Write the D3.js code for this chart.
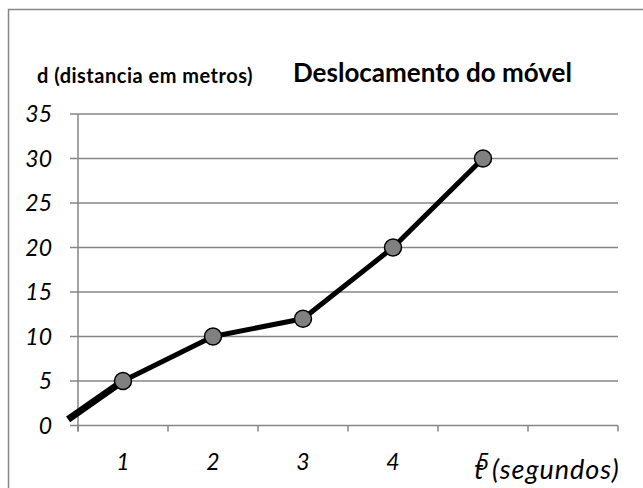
<!DOCTYPE html>
<html>
<head>
<meta charset="utf-8">
<script src="https://cdn.jsdelivr.net/npm/d3@7"></script>
<style>
  body { margin: 0; background: #fff; }
  text { font-family: Lato, "Open Sans", sans-serif; }
</style>
</head>
<body>
<div id="chart"></div>
<script>
// data
const categories = ['1', '2', '3', '4', '5', ''];
const distances = [5, 10, 12, 20, 30];
const yTicks = [0, 5, 10, 15, 20, 25, 30, 35];
// short thick stroke at the start, drawn before the first point
const startT = [0.39, 1];
const startD = [0.7, 5];

const width = 643;
const height = 488;
const margin = { top: 114, left: 78, right: 25, bottom: 62.5 };
const plotW = width - margin.left - margin.right; // 540
const plotH = height - margin.top - margin.bottom;

const svg = d3.select('#chart').append('svg').attr('width', width).attr('height', height);

// outer frame
svg.append('rect')
  .attr('x', 8.5).attr('y', 9.5)
  .attr('width', 650).attr('height', 500)
  .attr('fill', 'none').attr('stroke', '#868686').attr('stroke-width', 1.5);

const x = d3.scaleLinear().domain([0.5, categories.length + 0.5]).range([0, plotW]);
const y = d3.scaleLinear().domain([0, 35]).range([plotH, 0]);

const chart = svg.append('g').attr('transform', `translate(${margin.left},${margin.top})`);

// horizontal grid
chart.append('g')
  .selectAll('line')
  .data(yTicks)
  .enter()
  .append('line')
  .attr('x1', -8).attr('x2', plotW)
  .attr('y1', d => y(d)).attr('y2', d => y(d))
  .attr('stroke', '#868686').attr('stroke-width', 1.5);

// y axis line
chart.append('line')
  .attr('x1', 0).attr('x2', 0)
  .attr('y1', y(35)).attr('y2', plotH + 6)
  .attr('stroke', '#868686').attr('stroke-width', 1.5);

// x tick marks at category boundaries
const bounds = d3.range(categories.length + 1).map(i => i + 0.5);
chart.append('g')
  .selectAll('line')
  .data(bounds)
  .enter()
  .append('line')
  .attr('x1', d => x(d)).attr('x2', d => x(d))
  .attr('y1', plotH).attr('y2', plotH + 6)
  .attr('stroke', '#868686').attr('stroke-width', 1.5);

// y labels
chart.append('g')
  .selectAll('text')
  .data(yTicks)
  .enter()
  .append('text')
  .attr('x', -26).attr('y', d => y(d))
  .attr('dy', '0.36em')
  .attr('text-anchor', 'end')
  .style('font-size', '23px').style('font-style', 'italic')
  .text(d => d);

// x labels
chart.append('g')
  .selectAll('text')
  .data(categories)
  .enter()
  .append('text')
  .attr('x', (d, i) => x(i + 1)).attr('y', plotH + 44)
  .attr('text-anchor', 'middle')
  .style('font-size', '23px').style('font-style', 'italic')
  .text(d => d);

// lines
const line = d3.line().x(d => x(d[0])).y(d => y(d[1]));
chart.append('path')
  .attr('d', line(startT.map((t, i) => [t, startD[i]])))
  .attr('fill', 'none').attr('stroke', '#000').attr('stroke-width', 7);

chart.append('path')
  .attr('d', line(distances.map((v, i) => [i + 1, v])))
  .attr('fill', 'none').attr('stroke', '#000').attr('stroke-width', 5)
  .attr('stroke-linejoin', 'round');

chart.append('g')
  .selectAll('circle')
  .data(distances)
  .enter()
  .append('circle')
  .attr('cx', (d, i) => x(i + 1)).attr('cy', d => y(d))
  .attr('r', 8.5)
  .attr('fill', '#808080').attr('stroke', '#000').attr('stroke-width', 1.5);

// titles
svg.append('text')
  .attr('x', 293).attr('y', 82)
  .style('font-size', '26px').style('font-weight', 'bold')
  .text('Deslocamento do móvel');

svg.append('text')
  .attr('x', 37).attr('y', 83)
  .style('font-size', '20px').style('font-weight', 'bold')
  .style('letter-spacing', '0.5px')
  .text('d (distancia em metros)');

svg.append('text')
  .attr('x', 474).attr('y', 479)
  .style('font-size', '27px').style('font-style', 'italic')
  .style('letter-spacing', '1px')
  .text('t (segundos)');
</script>
</body>
</html>
